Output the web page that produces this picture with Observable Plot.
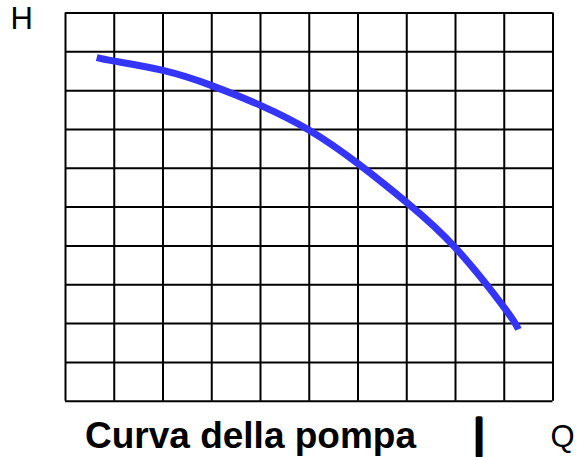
<!DOCTYPE html>
<html>
<head>
<meta charset="utf-8">
<script src="https://cdn.jsdelivr.net/npm/d3@7"></script>
<script src="https://cdn.jsdelivr.net/npm/@observablehq/plot@0.6"></script>
<style>
  html, body { margin: 0; padding: 0; background: #fff; }
  svg { display: block; }
</style>
</head>
<body>
<div id="chart"></div>
<script>
// Grid divisions (10 x 10 cells)
const qTicks = [0, 1, 2, 3, 4, 5, 6, 7, 8, 9, 10];
const hTicks = [0, 1, 2, 3, 4, 5, 6, 7, 8, 9, 10];

// Pump curve: flow Q (grid units) vs head H (grid units)
const flowQ = [0.64, 1, 2, 3, 4, 5, 6, 7, 8, 9, 9.29];
const headH = [8.85, 8.76, 8.52, 8.13, 7.62, 6.98, 6.12, 5.12, 3.95, 2.41, 1.85];

// Labels
const yLabel = "H";
const xLabel = "Q";
const title = "Curva della pompa";
const cursorGlyph = "|";

const curve = flowQ.map((q, i) => ({q, h: headH[i]}));

const chart = Plot.plot({
  width: 577,
  height: 457,
  marginLeft: 65,
  marginTop: 12.5,
  marginRight: 24.5,
  marginBottom: 56.3,
  x: {domain: [0, 10], axis: null},
  y: {domain: [0, 10], axis: null},
  style: {fontFamily: "'Liberation Sans', Arial, sans-serif", background: "white"},
  marks: [
    Plot.ruleX(qTicks, {x: d => d, stroke: "black", strokeWidth: 2}),
    Plot.ruleY(hTicks, {y: d => d, stroke: "black", strokeWidth: 2}),
    Plot.line(curve, {x: "q", y: "h", curve: "natural", stroke: "#3535f8", strokeWidth: 7, strokeLinecap: "butt"}),
    Plot.text([yLabel], {text: d => d, frameAnchor: "top-left", textAnchor: "start", lineAnchor: "bottom", dx: -55, dy: 16, fontSize: 31, fill: "black"}),
    Plot.text([xLabel], {text: d => d, frameAnchor: "bottom-right", textAnchor: "start", lineAnchor: "bottom", dx: -2.5, dy: 45.5, fontSize: 31, fill: "black"}),
    Plot.text([title], {text: d => d, frameAnchor: "bottom-left", textAnchor: "middle", lineAnchor: "bottom", dx: 185, dy: 46.5, fontSize: 37, fontWeight: "bold", fill: "black"}),
    Plot.text([cursorGlyph], {text: d => d, frameAnchor: "bottom-left", textAnchor: "middle", lineAnchor: "bottom", dx: 413.5, dy: 47, fontSize: 41, fill: "black", stroke: "black", strokeWidth: 3.5})
  ]
});
document.getElementById("chart").appendChild(chart);
</script>
</body>
</html>
